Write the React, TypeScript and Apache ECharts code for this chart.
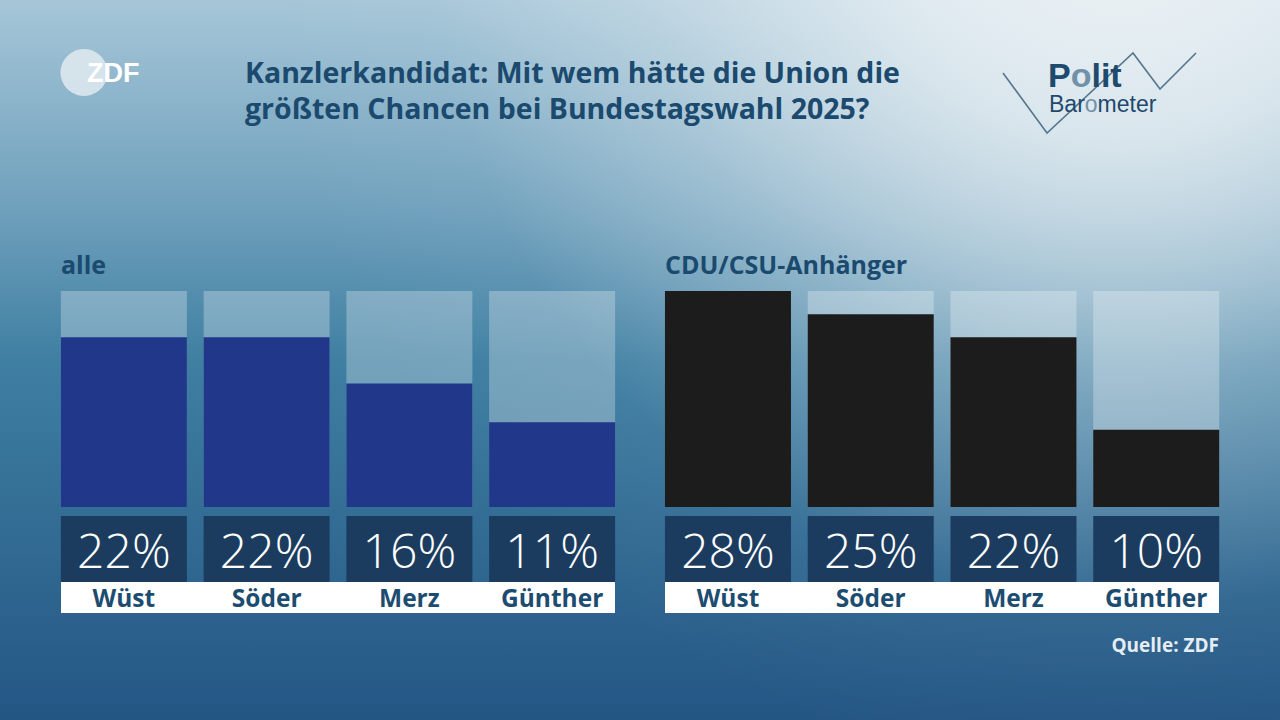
import React, { useEffect, useRef } from "react";
import * as echarts from "echarts";

const candidates = ["Wüst", "Söder", "Merz", "Günther"];
const valuesAll = [22, 22, 16, 11];
const valuesCDU = [28, 25, 22, 10];
const scaleMax = 28;
const panelTitles = ["alle", "CDU/CSU-Anhänger"];
const titleLines = [
  "Kanzlerkandidat: Mit wem hätte die Union die",
  "größten Chancen bei Bundestagswahl 2025?",
];
const source = "Quelle: ZDF";

const NAME_COLOR = "#1d4c71";
const BOX_COLOR = "#1c3c5f";

export default function App() {
  const ref = useRef<HTMLDivElement>(null);
  useEffect(() => {
    if (!ref.current) return;
    const chart = echarts.init(ref.current, null, { renderer: "svg" });
    const font = "Open Sans";
    const makeAxis = (gridIndex: number, vals: number[]) => ({
      type: "category",
      gridIndex,
      data: candidates,
      z: 5,
      axisLine: { show: false },
      axisTick: { show: false },
      axisLabel: {
        interval: 0,
        margin: 9,
        formatter: (_v: string, i: number) => `{v|${vals[i]}%}\n{n|${candidates[i]}}`,
        rich: {
          v: {
            width: 126,
            height: 66,
            lineHeight: 66,
            backgroundColor: BOX_COLOR,
            color: "#ffffff",
            fontSize: 48,
            fontWeight: 300,
            fontFamily: font,
            align: "center",
          },
          n: {
            width: 126,
            height: 31,
            lineHeight: 31,
            color: NAME_COLOR,
            fontSize: 24.5,
            fontWeight: "bold",
            fontFamily: font,
            align: "center",
          },
        },
      },
    });
    const makeY = (gridIndex: number) => ({
      type: "value",
      gridIndex,
      min: 0,
      max: scaleMax,
      show: false,
      splitLine: { show: false },
    });
    const bg = valuesAll.map(() => scaleMax);
    chart.setOption({
      animation: false,
      backgroundColor: new echarts.graphic.LinearGradient(0, 0, 0, 1, [
        { offset: 0, color: "#a6c6d8" },
        { offset: 0.3, color: "#6d9fbb" },
        { offset: 0.5, color: "#3f7fa2" },
        { offset: 1, color: "#245684" },
      ]),
      grid: [
        { left: 52.5, width: 571, top: 291, height: 216 },
        { left: 656.6, width: 571, top: 291, height: 216 },
      ],
      xAxis: [makeAxis(0, valuesAll), makeAxis(1, valuesCDU)],
      yAxis: [makeY(0), makeY(1)],
      series: [
        {
          type: "bar",
          xAxisIndex: 0,
          yAxisIndex: 0,
          data: bg,
          barWidth: 126,
          barGap: "-100%",
          itemStyle: { color: "rgba(255,255,255,0.28)" },
          silent: true,
        },
        {
          type: "bar",
          xAxisIndex: 0,
          yAxisIndex: 0,
          data: valuesAll,
          barWidth: 126,
          barGap: "-100%",
          itemStyle: { color: "#21388a" },
        },
        {
          type: "bar",
          xAxisIndex: 1,
          yAxisIndex: 1,
          data: bg,
          barWidth: 126,
          barGap: "-100%",
          itemStyle: { color: "rgba(255,255,255,0.28)" },
          silent: true,
        },
        {
          type: "bar",
          xAxisIndex: 1,
          yAxisIndex: 1,
          data: valuesCDU,
          barWidth: 126,
          barGap: "-100%",
          itemStyle: { color: "#1c1c1c" },
        },
      ],
      graphic: [
        {
          type: "rect",
          z: -100,
          silent: true,
          shape: { x: 0, y: 0, width: 1280, height: 720 },
          style: {
            fill: new echarts.graphic.RadialGradient(
              1120,
              -80,
              860,
              [
                { offset: 0, color: "rgba(236,242,245,1)" },
                { offset: 0.25, color: "rgba(236,242,245,0.82)" },
                { offset: 0.55, color: "rgba(236,242,245,0.35)" },
                { offset: 0.8, color: "rgba(236,242,245,0.04)" },
                { offset: 1, color: "rgba(236,242,245,0)" },
              ],
              true
            ),
          },
        },
        {
          type: "rect",
          z: -50,
          silent: true,
          shape: { x: 61, y: 582, width: 554, height: 31 },
          style: { fill: "#ffffff" },
        },
        {
          type: "rect",
          z: -50,
          silent: true,
          shape: { x: 665, y: 582, width: 554, height: 31 },
          style: { fill: "#ffffff" },
        },
        {
          type: "text",
          x: 245,
          y: 54,
          style: {
            text: titleLines.join("\n"),
            fontSize: 28.5,
            lineHeight: 36,
            fontWeight: "bold",
            fontFamily: font,
            fill: "#1b4a6e",
          },
        },
        {
          type: "text",
          x: 61,
          y: 251,
          style: {
            text: panelTitles[0],
            fontSize: 25,
            fontWeight: "bold",
            fontFamily: font,
            fill: "#1b4a6f",
          },
        },
        {
          type: "text",
          x: 665,
          y: 251,
          style: {
            text: panelTitles[1],
            fontSize: 25,
            fontWeight: "bold",
            fontFamily: font,
            fill: "#1b4a6f",
          },
        },
        {
          type: "text",
          x: 1219,
          y: 635,
          style: {
            text: source,
            align: "right",
            fontSize: 19,
            fontWeight: "bold",
            fontFamily: font,
            fill: "#e6edf2",
          },
        },
        {
          type: "circle",
          shape: { cx: 84, cy: 72.5, r: 23.5 },
          style: { fill: "rgba(225,234,240,0.85)" },
        },
        {
          type: "text",
          x: 87,
          y: 59,
          style: {
            text: "ZDF",
            fontSize: 27,
            fontWeight: "bold",
            fontFamily: "Liberation Sans",
            fill: "#ffffff",
          },
        },
        {
          type: "polyline",
          shape: {
            points: [
              [1003, 73],
              [1047, 133],
              [1133, 53],
              [1160, 89],
              [1196, 53],
            ],
          },
          style: { stroke: "#56768e", lineWidth: 1.6, fill: null },
        },
        {
          type: "text",
          x: 1048,
          y: 58,
          style: {
            text: "{a|P}{b|o}{a|lit}",
            rich: {
              a: { fontSize: 34, lineHeight: 34, fontWeight: "bold", fontFamily: "Liberation Sans", fill: "#1e4a6e" },
              b: { fontSize: 34, lineHeight: 34, fontWeight: "bold", fontFamily: "Liberation Sans", fill: "#6f91a9" },
            },
          },
        },
        {
          type: "text",
          x: 1049,
          y: 92,
          style: {
            text: "{a|Bar}{b|o}{a|meter}",
            rich: {
              a: { fontSize: 23, lineHeight: 23, fontFamily: "Liberation Sans", fill: "#1e4a6e" },
              b: { fontSize: 23, lineHeight: 23, fontFamily: "Liberation Sans", fill: "#6f91a9" },
            },
          },
        },
      ],
    });
    return () => chart.dispose();
  }, []);
  return (
    <div
      ref={ref}
      style={{ position: "fixed", left: 0, top: 0, width: 1280, height: 720 }}
    />
  );
}
